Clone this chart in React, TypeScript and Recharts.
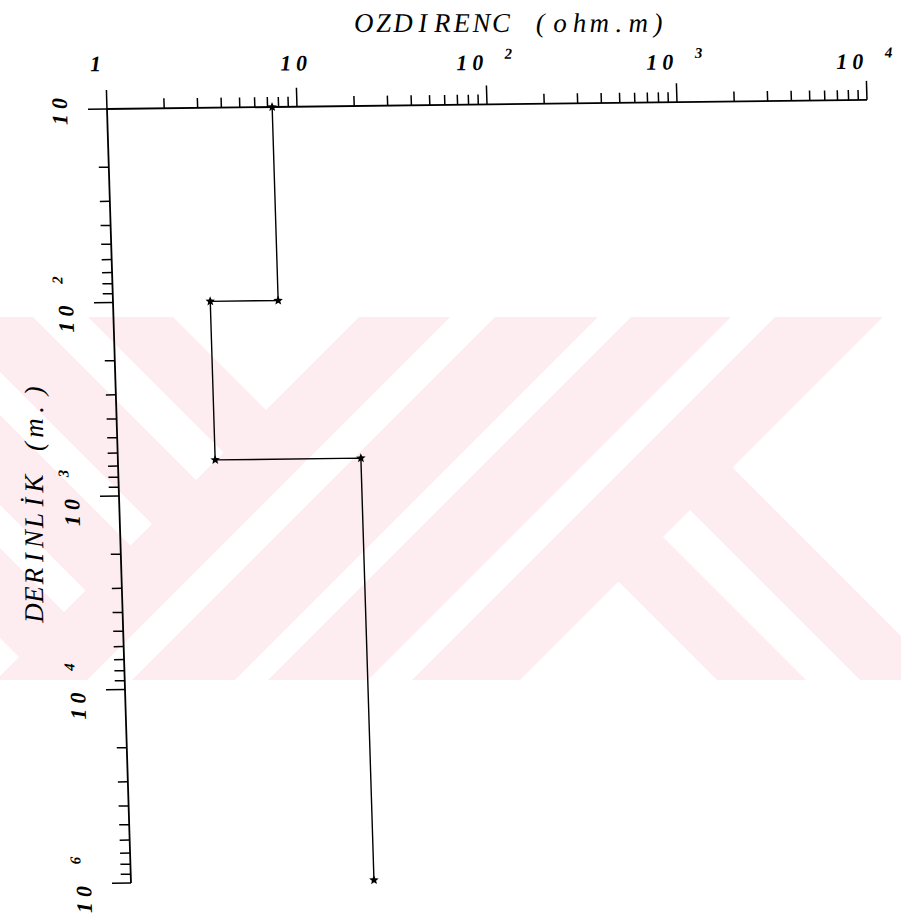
import React from "react";
import { LineChart, Line, XAxis, YAxis } from "recharts";

// layered earth model
const layerResistivity = [7.4, 3.25, 19]; // ohm.m
const layerBoundaryDepth = [10, 100, 660, 100000]; // m (top of each layer, last = bottom)

const resistivityTicks = [
  1, 2, 3, 4, 5, 6, 7, 8, 9,
  10, 20, 30, 40, 50, 60, 70, 80, 90,
  100, 200, 300, 400, 500, 600, 700, 800, 900,
  1000, 2000, 3000, 4000, 5000, 6000, 7000, 8000, 9000,
  10000,
];
const depthTicks = [
  10, 20, 30, 40, 50, 60, 70, 80, 90,
  100, 200, 300, 400, 500, 600, 700, 800, 900,
  1000, 2000, 3000, 4000, 5000, 6000, 7000, 8000, 9000,
  10000, 20000, 30000, 40000, 50000, 60000, 70000, 80000, 90000,
  100000,
];
const resistivityLabels: Record<number, [string, string]> = {
  1: ["1", ""], 10: ["10", ""], 100: ["10", "2"], 1000: ["10", "3"], 10000: ["10", "4"],
};
const depthLabels: Record<number, [string, string]> = {
  10: ["10", ""], 100: ["10", "2"], 1000: ["10", "3"], 10000: ["10", "4"], 100000: ["10", "6"],
};
const xTitle = "OZDIRENC (ohm.m)";
const yTitle = "DERINLİK (m.)";

const steps = layerResistivity.flatMap((rho, i) => [
  { rho, depth: layerBoundaryDepth[i] },
  { rho, depth: layerBoundaryDepth[i + 1] },
]);

const SERIF = "'Liberation Serif', 'DejaVu Serif', serif";
// the scan is slightly sheared; the whole chart gets the same shear
const SKEW_X = 0.031;
const SKEW_Y = -0.012;
const OX = 107;
const OY = 109;

function glyphs(main: string, sup: string) {
  const start = sup ? -24 : -10;
  const out = main.split("").map((ch, i) => ({ ch, off: start + i * 16, sup: false }));
  if (sup) out.push({ ch: sup, off: 23, sup: true });
  return out;
}

const RhoTick = (props: any) => {
  const { x, y, payload } = props;
  const lab = resistivityLabels[payload.value];
  const len = lab ? 19 : 10;
  const base = y - 38 + 0.009 * (x - OX);
  return (
    <g>
      <line x1={x} y1={y} x2={x} y2={y - len} stroke="#000" strokeWidth={1.5} />
      {lab &&
        glyphs(lab[0], lab[1]).map((g, i) => (
          <text key={i} x={x + g.off} y={g.sup ? base - 11 : base} textAnchor="middle"
            fontFamily={SERIF} fontStyle="italic" fontWeight="bold" fontSize={g.sup ? 15 : 22} fill="#000">
            {g.ch}
          </text>
        ))}
    </g>
  );
};

const DepthTick = (props: any) => {
  const { x, y, payload } = props;
  const lab = depthLabels[payload.value];
  const len = lab ? 19 : 10;
  return (
    <g>
      <line x1={x} y1={y} x2={x - len} y2={y} stroke="#000" strokeWidth={1.5} />
      {lab && (
        <g transform={`translate(${x - 40}, ${y}) rotate(-90)`}>
          {glyphs(lab[0], lab[1]).map((g, i) => (
            <text key={i} x={g.off} y={g.sup ? -10 : 0} textAnchor="middle"
              fontFamily={SERIF} fontStyle="italic" fontWeight="bold" fontSize={g.sup ? 15 : 22} fill="#000">
              {g.ch}
            </text>
          ))}
        </g>
      )}
    </g>
  );
};

const XTitle = () => (
  <g>
    {xTitle.split("").map((ch, i) => {
      const px = 364 + 19.6 * i;
      return (
        <text key={i} x={px - SKEW_X * (32 - OY)} y={32 - SKEW_Y * (px - OX)} textAnchor="middle"
          fontFamily={SERIF} fontStyle="italic" fontSize={27} fill="#000">
          {ch}
        </text>
      );
    })}
  </g>
);

const YTitle = () => (
  <g>
    {yTitle.split("").map((ch, i) => {
      const py = 612 - 18.5 * i;
      const bx = 43 - SKEW_X * (py - OY);
      return (
        <text key={i} transform={`translate(${bx}, ${py}) rotate(-90)`} textAnchor="middle"
          fontFamily={SERIF} fontStyle="italic" fontSize={27} fill="#000">
          {ch}
        </text>
      );
    })}
  </g>
);

const Star = (props: any) => {
  const { cx, cy, index } = props;
  if (cx == null || cy == null) return <g key={index} />;
  const pts: string[] = [];
  for (let k = 0; k < 10; k++) {
    const r = k % 2 === 0 ? 5 : 2.2;
    const a = -Math.PI / 2 + (k * Math.PI) / 5;
    pts.push(`${cx + r * Math.cos(a)},${cy + r * Math.sin(a)}`);
  }
  return <polygon key={index} points={pts.join(" ")} fill="#000" />;
};

// faint watermark of the scanned page: diagonal bands, "\" on the left and right, "/" in the middle
const WM_TOP = 317;
const WM_BOTTOM = 680;
const wmZones = {
  left: "0,317 359,317 0,676",
  mid: "359,317 883,317 520,680 0,680 0,676",
  right: "883,317 901,317 901,680 520,680",
};
const wmLeftGaps = [[-144, 2000], [-284, -229], [-415, -372], [-548, -505], [-681, -638]]; // x - y
const wmMidGaps = [[767, 812], [915, 948], [1048, 1092]]; // x + y
const wmRightGaps = [[-2000, 37], [126, 180], [265, 2000]]; // x - y

const back = (a: number, b: number) => `${300 + a},300 ${300 + b},300 ${720 + b},720 ${720 + a},720`;
const fwd = (a: number, b: number) => `${a - 300},300 ${b - 300},300 ${b - 720},720 ${a - 720},720`;

const Watermark = () => (
  <svg width={901} height={914} style={{ position: "absolute", left: 0, top: 0 }}>
    <defs>
      <clipPath id="wmL"><polygon points={wmZones.left} /></clipPath>
      <clipPath id="wmM"><polygon points={wmZones.mid} /></clipPath>
      <clipPath id="wmR"><polygon points={wmZones.right} /></clipPath>
    </defs>
    <rect x={0} y={WM_TOP} width={901} height={WM_BOTTOM - WM_TOP} fill="#fdecf0" />
    <g clipPath="url(#wmL)">
      {wmLeftGaps.map(([a, b], i) => <polygon key={i} points={back(a, b)} fill="#fff" />)}
    </g>
    <g clipPath="url(#wmM)">
      {wmMidGaps.map(([a, b], i) => <polygon key={i} points={fwd(a, b)} fill="#fff" />)}
    </g>
    <g clipPath="url(#wmR)">
      {wmRightGaps.map(([a, b], i) => <polygon key={i} points={back(a, b)} fill="#fff" />)}
    </g>
  </svg>
);

export default function App() {
  return (
    <div style={{ position: "absolute", left: 0, top: 0, width: 901, height: 914, overflow: "hidden", background: "#fff" }}>
      <Watermark />
      <div
        style={{
          position: "absolute", left: 0, top: 0,
          transform: `matrix(1, ${SKEW_Y}, ${SKEW_X}, 1, 0, 0)`,
          transformOrigin: `${OX}px ${OY}px`,
        }}
      >
        <LineChart width={901} height={914} data={steps} margin={{ top: 0, right: 34, bottom: 31, left: 0 }}>
          <XAxis
            dataKey="rho" type="number" scale="log" domain={[1, 10000]} orientation="top" height={OY}
            ticks={resistivityTicks} interval={0} tickSize={0} tickMargin={0} tickLine={false}
            tick={<RhoTick />} axisLine={{ stroke: "#000", strokeWidth: 1.8 }} label={<XTitle />}
          />
          <YAxis
            type="number" scale="log" domain={[10, 100000]} reversed width={OX}
            ticks={depthTicks} interval={0} tickSize={0} tickMargin={0} tickLine={false}
            tick={<DepthTick />} axisLine={{ stroke: "#000", strokeWidth: 1.8 }} label={<YTitle />}
          />
          <Line
            dataKey="depth" stroke="#000" strokeWidth={1.4} dot={<Star />} activeDot={false}
            isAnimationActive={false}
          />
        </LineChart>
      </div>
    </div>
  );
}
